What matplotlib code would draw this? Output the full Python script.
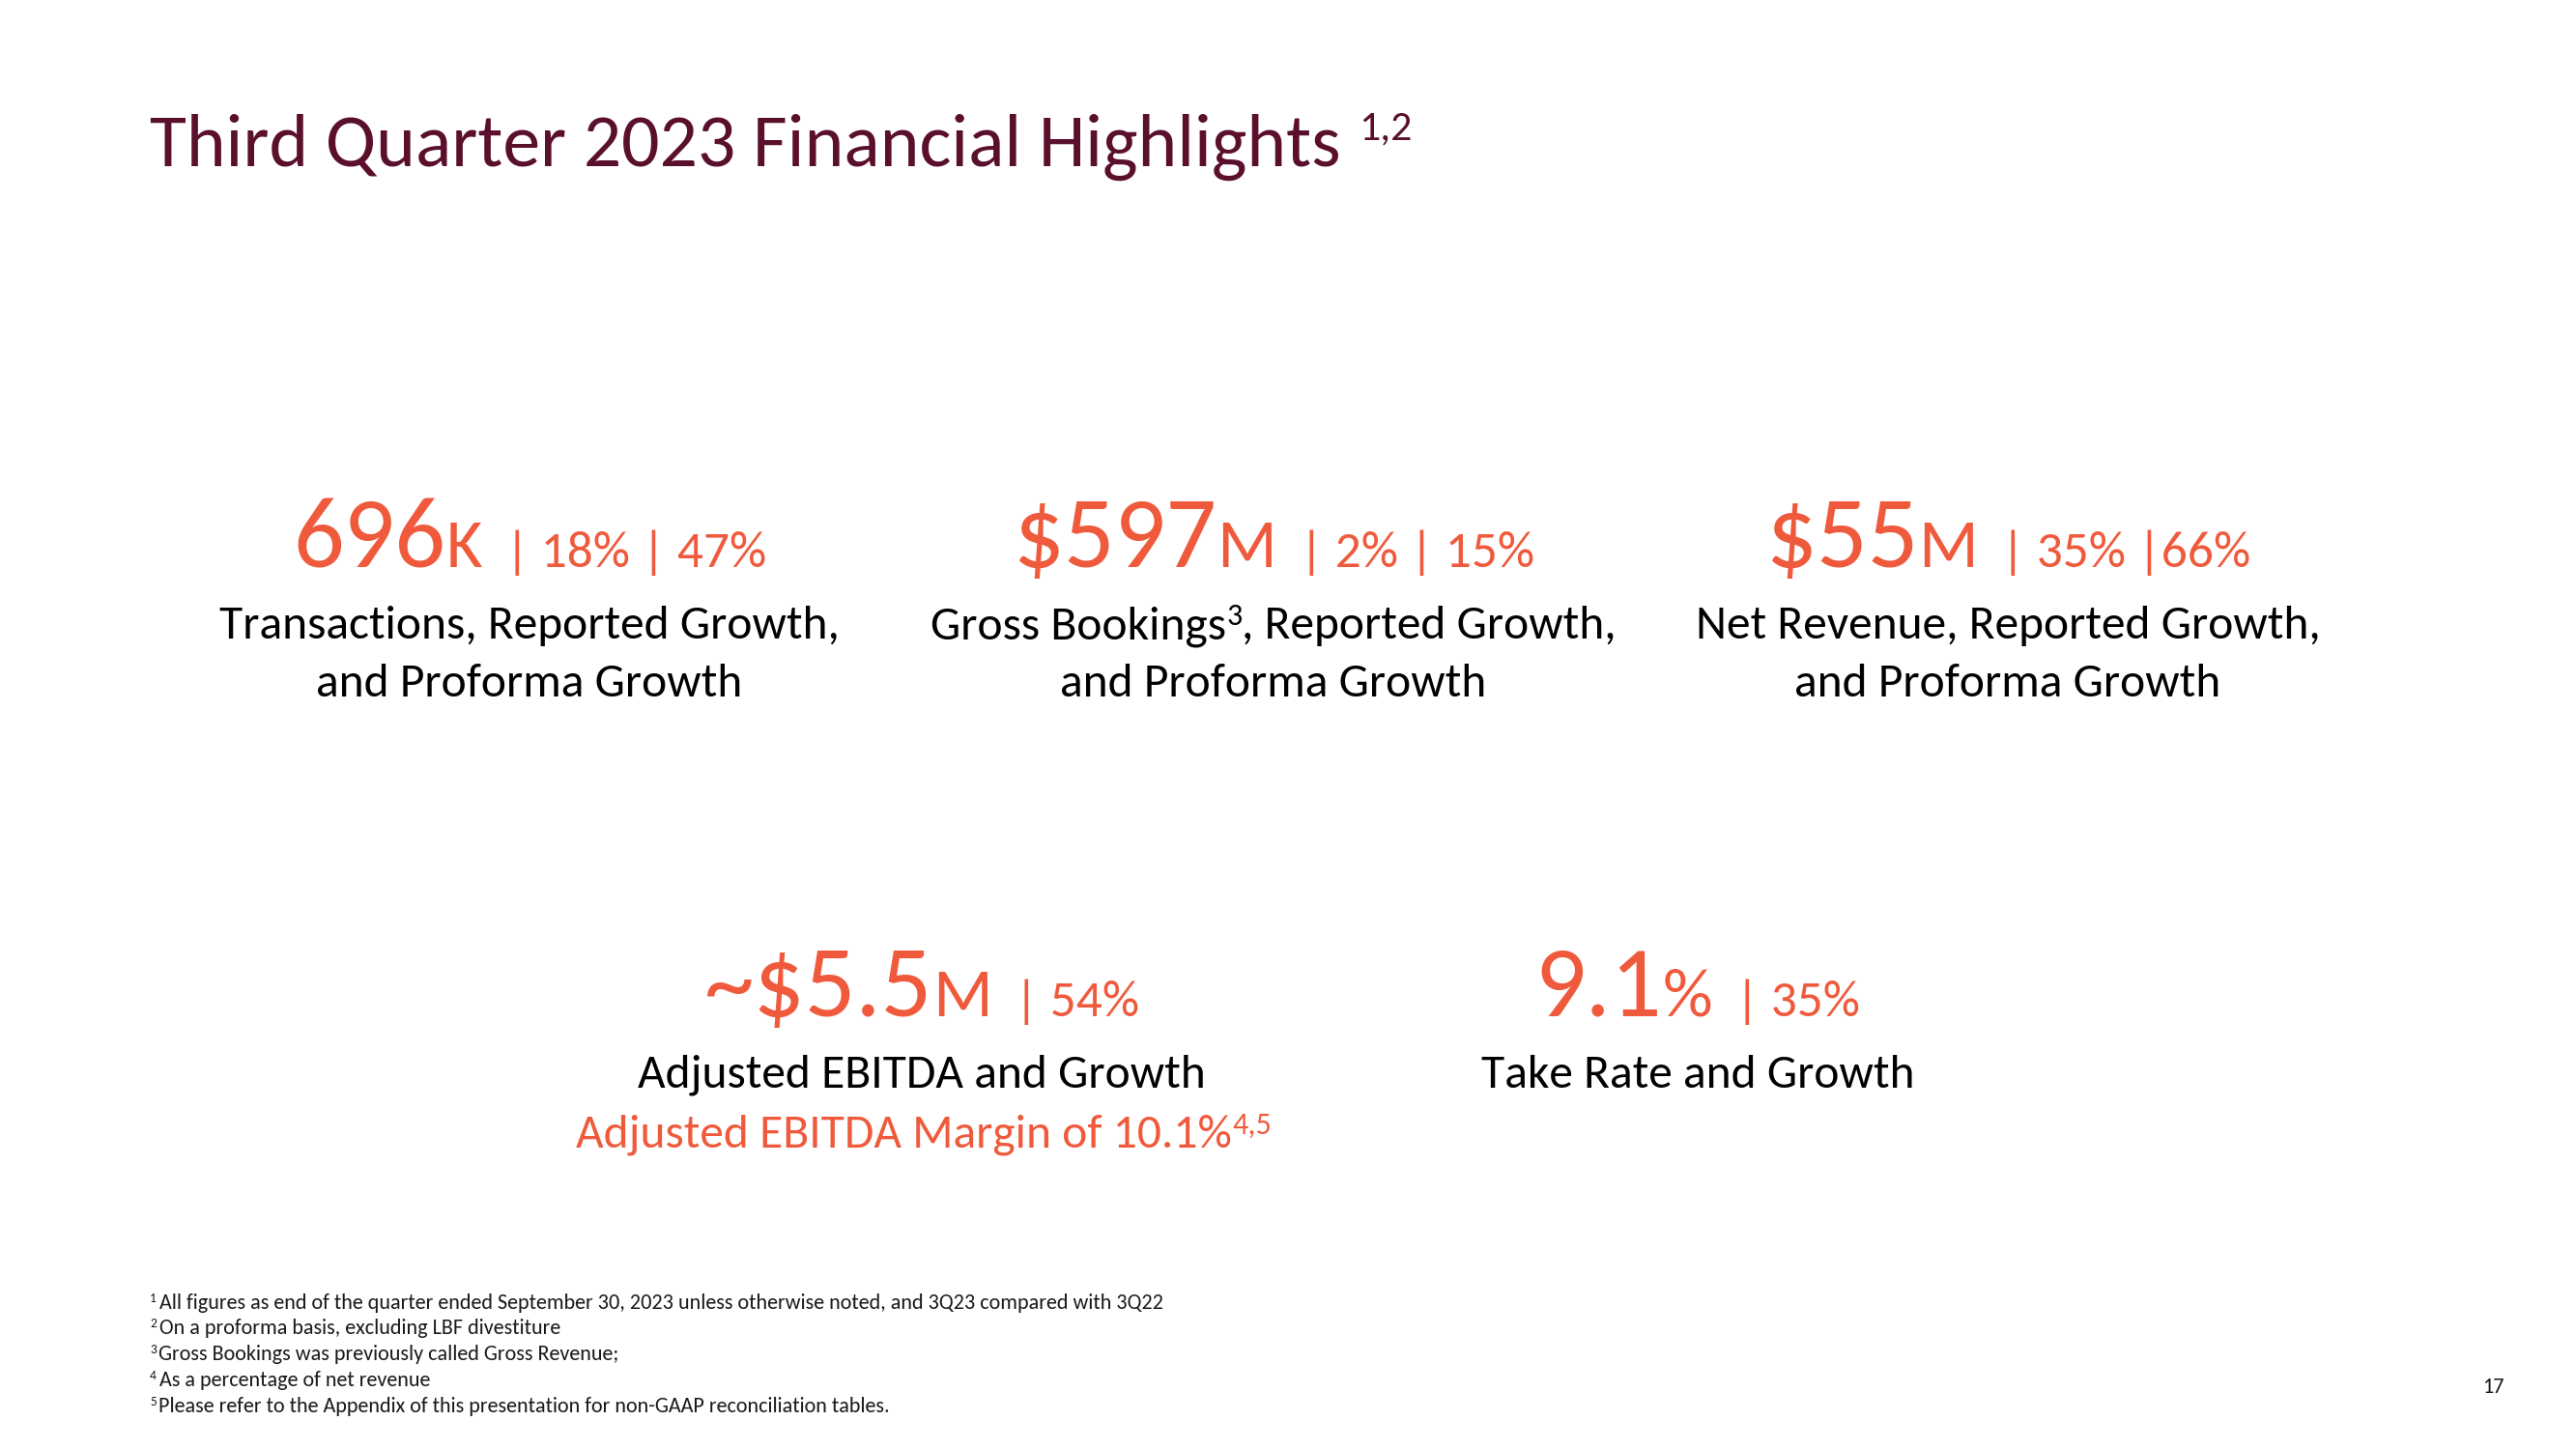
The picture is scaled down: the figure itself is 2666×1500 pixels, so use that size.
import matplotlib
matplotlib.use("Agg")
import matplotlib.pyplot as plt
from matplotlib import font_manager

# ---------------- data ----------------
title_text = "Third Quarter 2023 Financial Highlights"
title_note = "1,2"

kpi_values = ["696", "$597", "$55", "~$5.5", "9.1"]
kpi_units = ["K", "M", "M", "M", "%"]
kpi_growth = ["| 18% | 47%", "| 2% | 15%", "| 35% |66%", "| 54%", "| 35%"]

# label lines: list of (text, is_superscript) pieces
kpi_labels = [
    [[("Transactions, Reported Growth,", 0)], [("and Proforma Growth", 0)]],
    [[("Gross Bookings", 0), ("3", 1), (", Reported Growth,", 0)], [("and Proforma Growth", 0)]],
    [[("Net Revenue, Reported Growth,", 0)], [("and Proforma Growth", 0)]],
    [[("Adjusted EBITDA and Growth", 0)]],
    [[("Take Rate and Growth", 0)]],
]
ebitda_margin_text = "Adjusted EBITDA Margin of 10.1%"
ebitda_margin_note = "4,5"

footnote_marks = ["1", "2", "3", "4", "5"]
footnote_texts = [
    "All figures as end of the quarter ended September 30, 2023 unless otherwise noted, and 3Q23 compared with 3Q22",
    "On a proforma basis, excluding LBF divestiture",
    "Gross Bookings was previously called Gross Revenue;",
    "As a percentage of net revenue",
    "Please refer to the Appendix of this presentation for non-GAAP reconciliation tables.",
]
page_number = "17"

# ---------------- style / layout ----------------
W, H, DPI = 2666, 1500, 100
names = {f.name for f in font_manager.fontManager.ttflist}
FONT = "Carlito" if "Carlito" in names else "Lato"

MAROON = "#5A0F2D"
ORANGE = "#F05A3C"
BLACK = "#000000"
GREY = "#1A1A1A"

kpi_pos = [(548, 587), (1318, 587), (2078, 587), (954, 1052), (1757, 1052)]
label_gap1 = 74      # baseline of first label line below KPI baseline
label_step = 60      # label line spacing

fig = plt.figure(figsize=(W / DPI, H / DPI), dpi=DPI)
fig.patch.set_facecolor("white")
renderer = fig.canvas.get_renderer()


def fx(x):
    return x / W


def fy(y):
    return 1 - y / H


def measure(s, size):
    t = fig.text(0, 0, s, fontsize=size, family=FONT)
    w = t.get_window_extent(renderer).width
    t.remove()
    return w


def metrics(pieces, k):
    out, total = [], 0.0
    for (s, size, color, gap_em, rise_em) in pieces:
        sz = size * k
        px = sz * DPI / 72
        w = measure(s, sz)
        total += gap_em * px + w
        out.append((sz, px, w))
    return out, total


def draw(pieces, x, baseline, k, ha="center"):
    ms, total = metrics(pieces, k)
    cur = x - total / 2 if ha == "center" else x
    for (s, size, color, gap_em, rise_em), (sz, px, w) in zip(pieces, ms):
        cur += gap_em * px
        fig.text(fx(cur), fy(baseline - rise_em * px), s, fontsize=sz,
                 color=color, family=FONT, ha="left", va="baseline")
        cur += w
    return total


def fit(pieces, target):
    _, total = metrics(pieces, 1.0)
    return target / total


# ---- title ----
title_pieces = [(title_text, 64, MAROON, 0, 0)]
kt = fit(title_pieces, 1234)
draw(title_pieces + [(title_note, 36, MAROON, 0.42, 0.62)], 155, 172, kt, ha="left")

# ---- KPIs ----
def kpi_pieces(i):
    return [(kpi_values[i], 72, ORANGE, 0, 0),
            (kpi_units[i], 50, ORANGE, 0.0, 0),
            (kpi_growth[i], 37, ORANGE, 0.45, 0)]

kk = fit(kpi_pieces(0), 490)

def label_pieces(line, color=BLACK):
    ps = []
    for s, sup in line:
        if sup:
            ps.append((s, 26, color, 0.0, 0.42))
        else:
            ps.append((s, 40, color, 0, 0))
    return ps

kl = fit(label_pieces(kpi_labels[0][0]), 641)

for i, (cx, by) in enumerate(kpi_pos):
    draw(kpi_pieces(i), cx, by, kk)
    for j, line in enumerate(kpi_labels[i]):
        draw(label_pieces(line), cx, by + label_gap1 + j * label_step, kl)

# EBITDA margin sub-label
cx, by = kpi_pos[3]
draw([(ebitda_margin_text, 40, ORANGE, 0, 0),
      (ebitda_margin_note, 26, ORANGE, 0.0, 0.42)],
     cx + 2, by + label_gap1 + label_step + 1, kl)

# ---- footnotes ----
def fn_pieces(i):
    return [(footnote_marks[i], 11, GREY, 0, 0.55),
            (footnote_texts[i], 18, GREY, 0.12, 0)]

kf = fit(fn_pieces(0), 1052)
fn_base = [1355, 1381, 1408, 1435, 1462]
for i in range(len(footnote_texts)):
    draw(fn_pieces(i), 155, fn_base[i], kf, ha="left")

# ---- page number ----
draw([(page_number, 18, GREY, 0, 0)], 2580, 1442, kf)

fig.savefig("out.png", dpi=DPI, facecolor="white")
